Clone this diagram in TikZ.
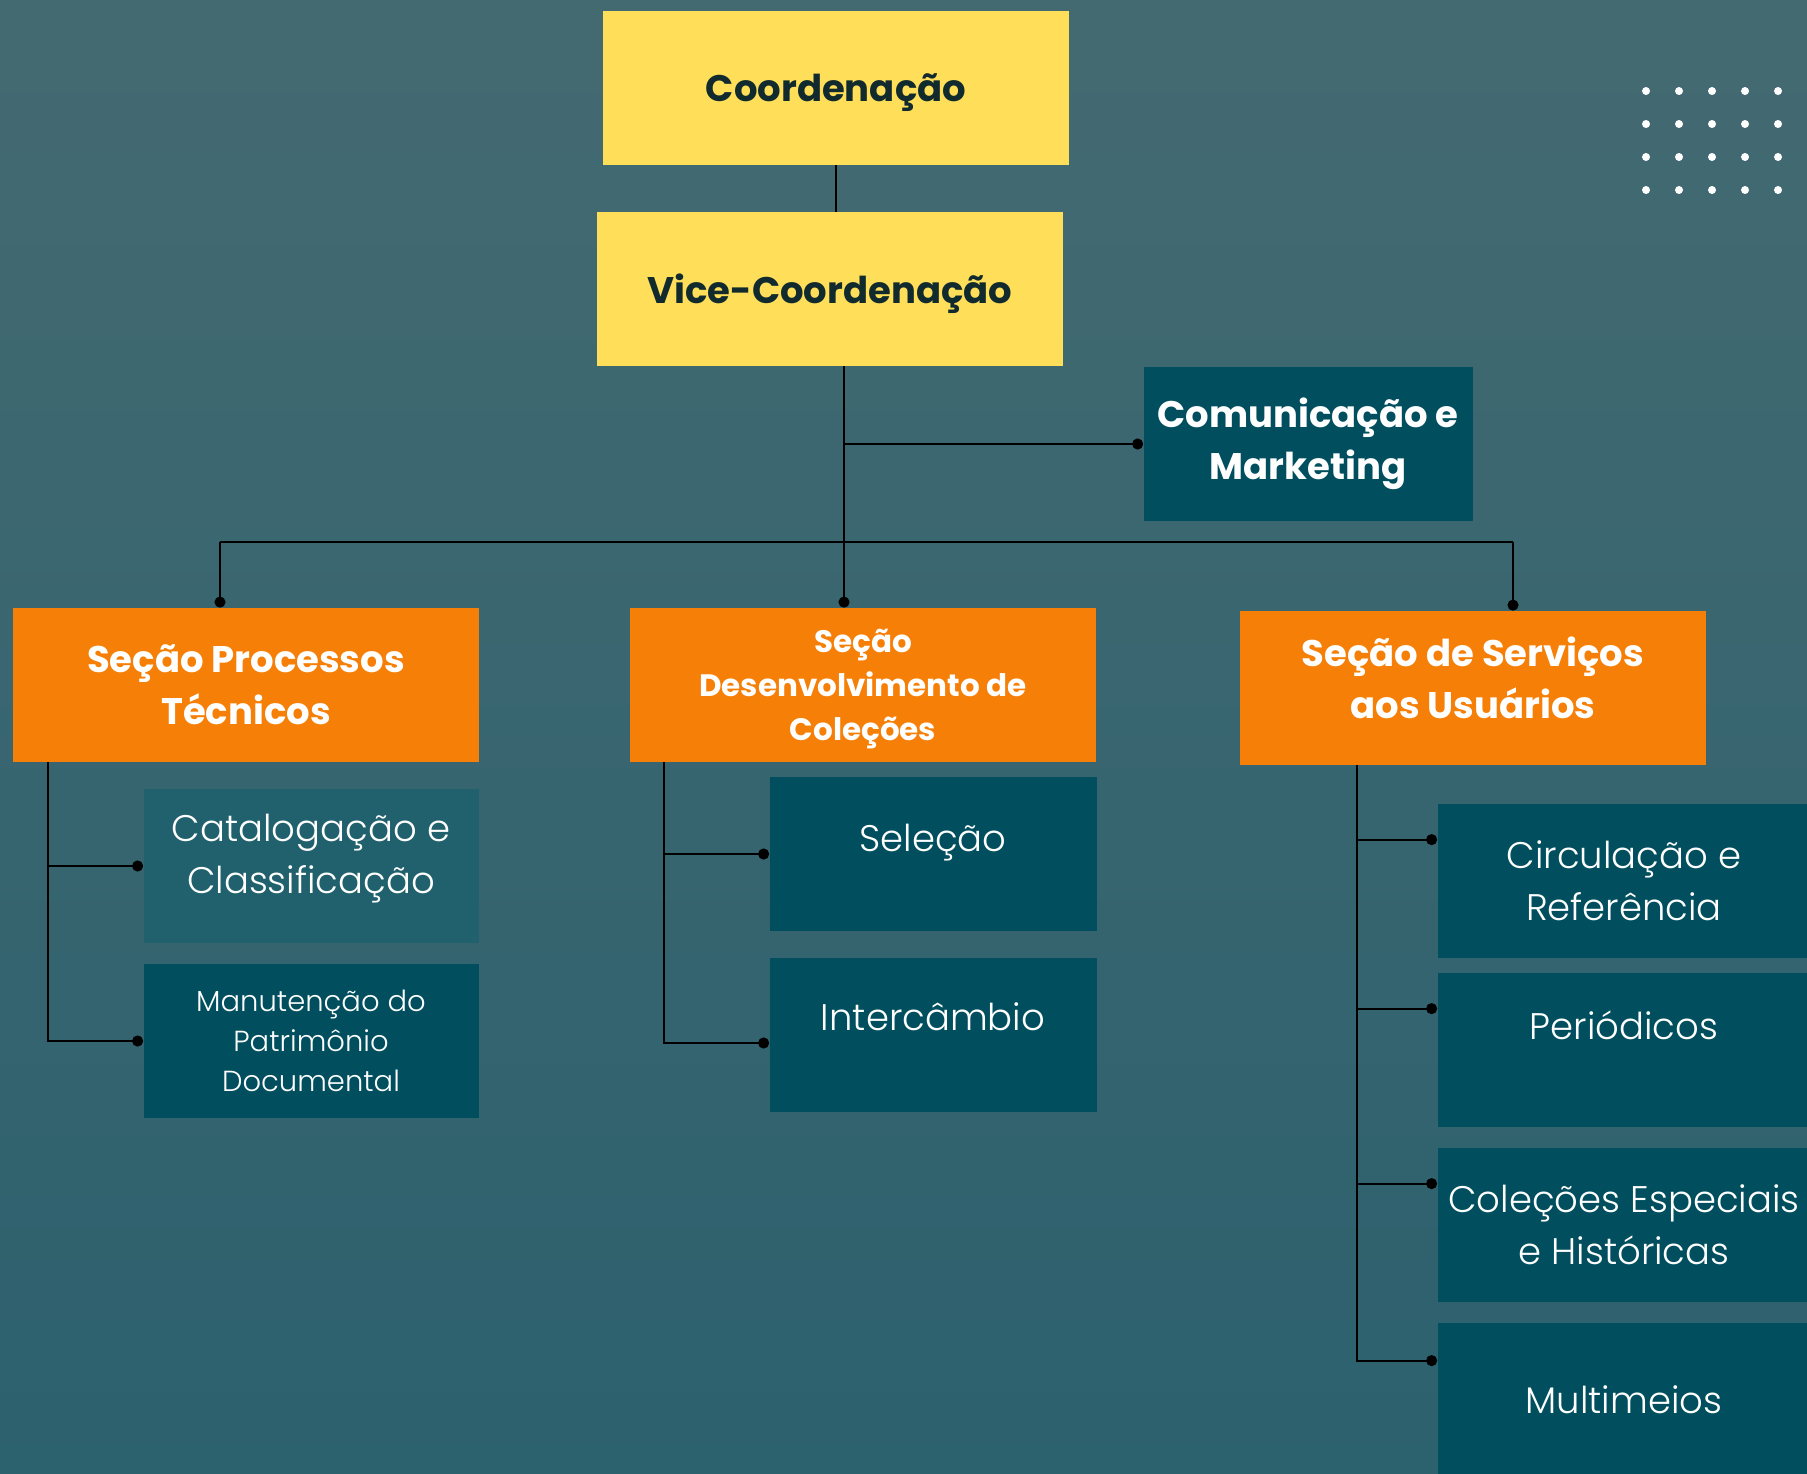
\documentclass[tikz,border=0pt]{standalone}
\usepackage{fontspec}
\setmainfont{Poppins}
\newfontfamily\lightfont{Poppins Light}
\usepackage{xcolor}
\definecolor{bibbacktop}{RGB}{68,106,113}
\definecolor{bibbackmid}{RGB}{72,124,134}
\definecolor{bibbackbot}{RGB}{44,97,110}
\definecolor{bibyellow}{RGB}{255,222,89}
\definecolor{biborange}{RGB}{246,128,7}
\definecolor{bibteal}{RGB}{1,79,94}
\definecolor{bibtealmid}{RGB}{33,97,110}
\definecolor{bibink}{RGB}{16,42,46}
\usepackage{tikz}
\usetikzlibrary{arrows.meta}
\newcommand{\headfont}{\bfseries\fontsize{18.5}{26}\selectfont}
\newcommand{\unitfont}{\lightfont\fontsize{18.5}{26}\selectfont}
\tikzset{
    common/.style={rectangle, inner sep=0pt, align=center, minimum height=77pt},
    head/.style={common, fill=bibyellow, text=bibink, font=\headfont, minimum width=233pt, text depth=0pt},
    section/.style={common, fill=biborange, text=white, font=\headfont, minimum width=233pt, text depth=0pt},
    unit/.style={common, fill=bibteal, text=white, font=\unitfont},
    link/.style={draw=black, line width=1pt},
    tip/.style={link, -{Circle[length=5.5pt]}}
}

\begin{document}
\begin{tikzpicture}[x=0.5pt, y=-0.5pt]
      \shade[top color=bibbacktop, middle color=bibbackmid, bottom color=bibbackbot] (0,0) rectangle (1807,1473);
      \useasboundingbox (0,0) rectangle (1807,1473);

      % dots, top right
      \foreach \i in {0,...,5}
          \foreach \j in {0,...,3}
              \fill[white] (1646+33*\i, 91+33*\j) circle (4);

      \node[head] (coord) at (836,88) {Coordenação};
      \node[head] (vice) at (830,289) {Vice-Coordenação};
      \node[unit, font=\headfont, minimum width=164.5pt] (com) at (1308,444) {Comunicação e\\Marketing};

      \node[section] (spt) at (246,685) {Seção Processos\\Técnicos};
      \node[section, font=\bfseries\fontsize{15.5}{22}\selectfont] (sdc) at (863,685) {Seção\\Desenvolvimento de\\Coleções};
      \node[section, text depth=10pt] (ssu) at (1473,688) {Seção de Serviços\\aos Usuários};

      \node[unit, fill=bibtealmid, minimum width=167.5pt, text depth=12pt] (cat) at (311,866) {Catalogação e\\Classificação};
      \node[unit, minimum width=167.5pt, font=\lightfont\fontsize{14.5}{20}\selectfont] (man) at (311,1041) {Manutenção do\\Patrimônio\\Documental};

      \node[unit, minimum width=163.5pt, text depth=16pt] (sel) at (933,854) {Seleção};
      \node[unit, minimum width=163.5pt, text depth=18pt] (int) at (933,1035) {Intercâmbio};

      \node[unit, minimum width=186.5pt] (cir) at (1624,881) {Circulação e\\Referência};
      \node[unit, minimum width=186.5pt, text depth=25pt] (per) at (1624,1050) {Periódicos};
      \node[unit, minimum width=186.5pt] (col) at (1624,1225) {Coleções Especiais\\e Históricas};
      \node[unit, minimum width=186.5pt] (mul) at (1624,1400) {Multimeios};

      % trunk and bus
      \coordinate (trunk) at ([xshift=7pt]vice.south);
      \coordinate (bus) at ([yshift=33pt]sdc.north);
      \coordinate (spt-top) at ([xshift=-13pt]spt.north);
      \coordinate (ssu-top) at ([xshift=20pt]ssu.north);

      \draw[link] (coord.south) -- (coord.south |- vice.north);
      \draw[tip] (trunk) -- (trunk |- sdc.north);
      \draw[tip] (trunk |- com.west) -- (com.west);
      \draw[link] (spt-top |- bus) -- (ssu-top |- bus);
      \draw[tip] (spt-top |- bus) -- (spt-top);
      \draw[tip] (ssu-top |- bus) -- (ssu-top);

      % left section
      \coordinate (spt-spine) at ([xshift=17.5pt]spt.south west);
      \draw[tip] (spt-spine) |- (man.west);
      \draw[tip] (spt-spine |- cat.west) -- (cat.west);

      % middle section
      \coordinate (sdc-spine) at ([xshift=17pt]sdc.south west);
      \draw[tip] (sdc-spine) |- ([yshift=-4pt]int.west);
      \draw[tip] (sdc-spine |- sel.west) -- (sel.west);

      % right section
      \coordinate (ssu-spine) at ([xshift=58.5pt]ssu.south west);
      \draw[tip] (ssu-spine) |- ([yshift=-19pt]mul.north west);
      \foreach \n in {cir, per, col} {
          \coordinate (\n-in) at ([yshift=-18pt]\n.north west);
          \draw[tip] (ssu-spine |- \n-in) -- (\n-in);
      }
    \end{tikzpicture}
\end{document}
